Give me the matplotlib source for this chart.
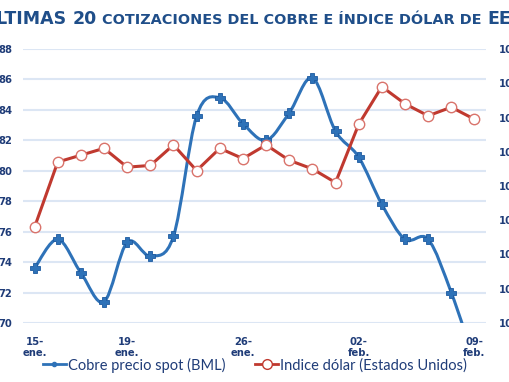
import numpy as np
import matplotlib.pyplot as plt
from matplotlib.path import Path
from matplotlib.patches import PathPatch
from matplotlib.lines import Line2D

# data (20 trading days)
tick_pos = [0, 4, 9, 14, 19]
tick_labels = ['15-\nene.', '19-\nene.', '26-\nene.', '02-\nfeb.', '09-\nfeb.']
cobre = [73.6, 75.5, 73.3, 71.4, 75.3, 74.4, 75.7, 83.6, 84.8, 83.1,
         82.0, 83.8, 86.1, 82.6, 80.9, 77.8, 75.5, 75.5, 72.0, 67.5]
dolar = [103.8, 105.7, 105.9, 106.1, 105.55, 105.6, 106.2, 105.45, 106.1, 105.8,
         106.2, 105.75, 105.5, 105.1, 106.8, 107.9, 107.4, 107.05, 107.3, 106.95]

blue = '#2E72B8'
red = '#C0392F'
navy = '#1F3C78'
grid_c = '#DCE6F4'

fig = plt.figure(figsize=(5.1, 3.82), dpi=100)
ax = fig.add_axes([23 / 510, 1 - 323 / 382, 463 / 510, 274 / 382])
ax2 = ax.twinx()

x = np.arange(len(cobre))
y = np.array(cobre)

# smoothed line like excel: bezier through the points
verts = [(x[0], y[0])]
codes = [Path.MOVETO]
for i in range(len(x) - 1):
    p0 = np.array([x[max(i - 1, 0)], y[max(i - 1, 0)]])
    p1 = np.array([x[i], y[i]])
    p2 = np.array([x[i + 1], y[i + 1]])
    p3 = np.array([x[min(i + 2, len(x) - 1)], y[min(i + 2, len(x) - 1)]])
    c1 = p1 + (p2 - p0) / 6
    c2 = p2 - (p3 - p1) / 6
    verts += [tuple(c1), tuple(c2), tuple(p2)]
    codes += [Path.CURVE4] * 3
ax.add_patch(PathPatch(Path(verts, codes), fc='none', ec=blue, lw=2.2, zorder=3))
ax.plot(x, y, ls='none', marker='P', ms=6.5, mfc=blue, mec='#1D5AA0', mew=0.6, zorder=4)

ax2.plot(x, dolar, color=red, lw=2.2, marker='o', ms=7.5, mfc='white', mec='#D9736B',
         mew=1.0, zorder=4)

ax.set_xlim(-0.5, 19.5)
ax.set_ylim(70, 88)
ax.set_yticks(np.arange(70, 89, 2))
ax2.set_ylim(101, 109)
ax2.set_yticks(np.arange(101, 110, 1))
ax.set_xticks(tick_pos)
ax.set_xticklabels(tick_labels, linespacing=1.1)
ax.grid(axis='y', color=grid_c, lw=1.5)
ax.set_axisbelow(True)

for a in (ax, ax2):
    for s in a.spines.values():
        s.set_visible(False)
    a.tick_params(length=0, colors=navy, labelsize=7.2)
    for lab in a.get_xticklabels() + a.get_yticklabels():
        lab.set_fontweight('bold')
ax.tick_params(axis='y', pad=7.5)
ax.tick_params(axis='x', pad=10)
ax2.tick_params(axis='y', pad=9.5)

# title, cut at the edges like the source
tc = '#1F4E89'
base = 1 - 24 / 382
fig.text(67 / 510, base, 'ÚLTIMAS', ha='right', va='baseline',
         fontsize=12.5, fontweight='bold', color=tc)
fig.text(73 / 510, base, '20', ha='left', va='baseline',
         fontsize=12.5, fontweight='bold', color=tc)
fig.text(102 / 510, base, 'COTIZACIONES DEL COBRE E ÍNDICE DÓLAR DE',
         ha='left', va='baseline', fontsize=10.4, fontweight='bold', color=tc)
fig.text(487 / 510, base, 'EE.UU.', ha='left', va='baseline',
         fontsize=12.5, fontweight='bold', color=tc)

handles = [Line2D([], [], color=blue, lw=2, marker='o', ms=3),
           Line2D([], [], color=red, lw=2, marker='o', ms=7, mfc='white', mec=red)]
leg = fig.legend(handles, ['Cobre precio spot (BML)', 'Indice dólar (Estados Unidos)'],
                 loc='center', bbox_to_anchor=(0.5, 1 - 365 / 382), ncol=2, frameon=False,
                 handlelength=1.6, handletextpad=0.15, columnspacing=2.0,
                 prop={'family': 'Lato', 'size': 10.5})
for t in leg.get_texts():
    t.set_color(navy)

fig.savefig('out.png', dpi=100)
